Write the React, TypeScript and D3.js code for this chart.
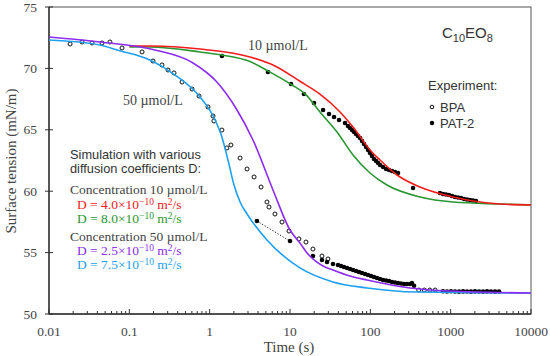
import React from 'react';
import * as d3 from 'd3';

// Axis ticks
const xTickValues = [0.01, 0.1, 1, 10, 100, 1000, 10000];
const xTickLabels = ['0.01', '0.1', '1', '10', '100', '1000', '10000'];
const yTickValues = [50, 55, 60, 65, 70, 75];
const yTickLabels = ['50', '55', '60', '65', '70', '75'];

// Simulation, 10 umol/L, D = 4.0e-10 (red)
const redT = [0.1, 0.181, 0.758, 3.18, 6.5, 13.3, 23.6, 42.0, 60.9, 99.1, 132, 215, 415, 1070, 4112, 10000];
const redG = [71.82, 71.82, 71.58, 70.93, 70.2, 68.95, 67.9, 66.45, 65.23, 63.36, 62.54, 61.32, 60.34, 59.53, 58.96, 58.88];

// Simulation, 10 umol/L, D = 8.0e-10 (green)
const greenT = [0.1, 0.181, 0.758, 1.42, 3.18, 5.32, 10.6, 15.4, 23.6, 38.5, 60.9, 99.1, 161, 415, 1070, 4112, 10000];
const greenG = [71.74, 71.74, 71.34, 71.09, 70.56, 69.79, 68.65, 67.92, 66.45, 64.82, 62.95, 61.48, 60.5, 59.53, 59.12, 58.96, 58.88];

// Simulation, 50 umol/L, D = 2.5e-10 (purple)
const purpleT = [0.01, 0.0431, 0.209, 0.621, 1.23, 2.19, 3.46, 6.14, 10.0, 13.3, 16.3, 25.8, 34.3, 55.9, 91.0, 312, 982, 10000];
const purpleG = [72.56, 72.15, 71.5, 70.44, 68.89, 66.61, 64.17, 60.1, 56.84, 55.78, 54.97, 53.91, 53.58, 53.09, 52.77, 52.12, 51.87, 51.71];

// Simulation, 50 umol/L, D = 7.5e-10 (blue)
const blueT = [0.01, 0.0431, 0.0703, 0.181, 0.371, 0.758, 1.17, 1.42, 1.69, 2.01, 2.39, 2.92, 5.17, 13.3, 34.3, 91.0, 381, 10000];
const blueG = [72.31, 71.91, 71.5, 70.68, 69.46, 67.67, 65.8, 64.41, 62.54, 60.5, 59.12, 58.14, 56.03, 53.75, 52.61, 52.12, 51.79, 51.71];

// Experiment BPA (open circles)
const bpaT = [0.0183, 0.0258, 0.0343, 0.0457, 0.0574, 0.0811, 0.144, 0.197, 0.255, 0.303, 0.36, 0.453, 0.603, 0.737, 0.953, 1.1, 1.13, 1.42, 1.64, 1.84, 2.39, 2.92, 3.57, 4.36, 5.17, 5.48, 6.5, 7.95, 9.72, 12.9, 15.8, 19.3, 25.0, 29.7, 400, 470, 550, 640];
const bpaG = [71.99, 72.15, 72.07, 72.07, 72.15, 71.66, 71.34, 70.6, 70.28, 69.87, 69.63, 68.89, 68.32, 67.75, 66.86, 66.12, 65.72, 64.98, 63.52, 63.76, 62.7, 61.81, 61.16, 60.34, 59.12, 58.71, 58.14, 57.49, 56.76, 56.11, 55.86, 55.29, 54.72, 54.48, 51.95, 51.95, 51.95, 51.95];

// Experiment PAT-2, 10 umol/L (filled dots)
const pat10T = [1.42, 5.32, 10.3, 14.9, 19.9, 25.8, 30.6, 35.3, 40.8, 48.4, 52.7, 55.9, 59.2, 62.7, 66.4, 70.3, 74.5, 78.8, 83.5, 88.4, 93.6, 99.1, 105, 111, 118, 125, 132, 144, 157, 171, 186, 203, 221, 340, 736, 803, 875, 953, 1039, 1132, 1235, 1346, 1467, 1597, 1742, 1898, 2069];
const pat10G = [71.01, 69.71, 68.73, 67.92, 67.18, 66.61, 66.29, 66.04, 65.8, 65.55, 65.31, 65.15, 64.98, 64.82, 64.66, 64.5, 64.33, 64.09, 63.84, 63.6, 63.36, 63.11, 62.87, 62.62, 62.46, 62.3, 62.13, 61.97, 61.81, 61.73, 61.65, 61.56, 61.48, 60.26, 59.85, 59.77, 59.73, 59.69, 59.61, 59.53, 59.49, 59.45, 59.36, 59.32, 59.28, 59.24, 59.2];

// Experiment PAT-2, 50 umol/L (filled dots)
const pat50T = [3.88, 10.0, 19.3, 25.0, 28.9, 34.3, 39.6, 43.2, 47.0, 51.3, 55.9, 60.9, 66.4, 72.3, 78.8, 85.9, 93.6, 102, 111, 121, 132, 144, 157, 171, 186, 203, 221, 241, 263, 286, 312, 330, 350, 803, 901, 1009, 1132, 1271, 1426, 1597, 1791, 2009, 2254, 2529, 2837, 3178, 3565, 4000];
const pat50G = [57.57, 55.94, 54.72, 54.4, 54.23, 54.07, 53.99, 53.91, 53.83, 53.75, 53.66, 53.58, 53.5, 53.42, 53.34, 53.26, 53.18, 53.09, 53.01, 52.93, 52.85, 52.77, 52.73, 52.69, 52.61, 52.57, 52.52, 52.48, 52.44, 52.44, 52.44, 52.52, 52.3, 51.85, 51.83, 51.85, 51.83, 51.82, 51.84, 51.83, 51.82, 51.84, 51.83, 51.82, 51.84, 51.83, 51.82, 51.83];

const RED = '#f21c1c';
const GREEN = '#2a9632';
const PURPLE = '#8c2cf0';
const BLUE = '#1ea0f0';
const SERIF = '"Liberation Serif", "Times New Roman", serif';
const SANS = '"Liberation Sans", Arial, sans-serif';

export default function App() {
  const W = 550;
  const H = 356;
  const L = 49, R = 531, T = 7, B = 314;
  const x = d3.scaleLog().domain([0.01, 10000]).range([L, R]);
  const y = d3.scaleLinear().domain([50, 75]).range([B, T]);

  const mkLine = (ts: number[], gs: number[]) =>
    d3
      .line<number>()
      .x((_, i) => x(ts[i]))
      .y((_, i) => y(gs[i]))
      .curve(d3.curveMonotoneX)(ts.map((_, i) => i)) || '';

  const minor: number[] = [];
  for (let e = -2; e < 4; e++) {
    for (let m = 2; m <= 9; m++) minor.push(m * Math.pow(10, e));
  }

  const dotLine = d3
    .line<number>()
    .x((i) => x(pat50T[i]))
    .y((i) => y(pat50G[i]))([0, 1]) || '';

  const Dlabel = (txt: string, color: string, yy: number) => (
    <text x={77} y={yy} fill={color} fontFamily={SERIF} fontSize={13.5}>
      {`D = ${txt}×10`}
      <tspan dy={-4} fontSize={9.5}>−10</tspan>
      <tspan dy={4}> m</tspan>
      <tspan dy={-4} fontSize={9.5}>2</tspan>
      <tspan dy={4}>/s</tspan>
    </text>
  );

  return (
    <svg width={W} height={H} style={{ position: 'absolute', left: 0, top: 0, background: '#fff' }}>
      <rect x={0} y={0} width={W} height={H} fill="#fff" />
      {/* frame */}
      <rect x={L} y={T} width={R - L} height={B - T} fill="none" stroke="#555" strokeWidth={1} />
      <line x1={L} y1={T} x2={L} y2={B} stroke="#333" strokeWidth={1.4} />
      <line x1={L} y1={B} x2={R} y2={B} stroke="#333" strokeWidth={1.4} />
      {/* x ticks */}
      {minor.map((v, i) => (
        <line key={'mn' + i} x1={x(v)} x2={x(v)} y1={B} y2={B - 3} stroke="#333" strokeWidth={1} />
      ))}
      {xTickValues.map((v, i) => (
        <g key={'xt' + i}>
          <line x1={x(v)} x2={x(v)} y1={B} y2={B - 5} stroke="#333" strokeWidth={1} />
          <text x={x(v)} y={336} textAnchor="middle" fontFamily={SERIF} fontSize={13.5} fill="#444">
            {xTickLabels[i]}
          </text>
        </g>
      ))}
      {/* y ticks */}
      {yTickValues.map((v, i) => (
        <g key={'yt' + i}>
          <line x1={L - 4} x2={L + 4} y1={y(v)} y2={y(v)} stroke="#333" strokeWidth={1} />
          <text x={37} y={y(v) + 4.5} textAnchor="end" fontFamily={SERIF} fontSize={13.5} fill="#444">
            {yTickLabels[i]}
          </text>
        </g>
      ))}
      {/* axis titles */}
      <text x={289} y={352} textAnchor="middle" fontFamily={SERIF} fontSize={15} fill="#444">
        Time (s)
      </text>
      <text
        transform="translate(16,161) rotate(-90)"
        textAnchor="middle"
        fontFamily={SERIF}
        fontSize={15}
        fill="#444"
      >
        Surface tension (mN/m)
      </text>

      {/* experimental data */}
      {bpaT.map((t, i) => (
        <circle key={'b' + i} cx={x(t)} cy={y(bpaG[i])} r={2} fill="#fff" stroke="#111" strokeWidth={1} />
      ))}
      <path d={dotLine} fill="none" stroke="#111" strokeWidth={1} strokeDasharray="1.2,1.8" />
      {pat10T.map((t, i) => (
        <circle key={'p1' + i} cx={x(t)} cy={y(pat10G[i])} r={2.3} fill="#000" />
      ))}
      {pat50T.map((t, i) => (
        <circle key={'p5' + i} cx={x(t)} cy={y(pat50G[i])} r={2.3} fill="#000" />
      ))}

      {/* simulation curves */}
      <path d={mkLine(greenT, greenG)} fill="none" stroke={GREEN} strokeWidth={1.6} />
      <path d={mkLine(redT, redG)} fill="none" stroke={RED} strokeWidth={1.6} />
      <path d={mkLine(blueT, blueG)} fill="none" stroke={BLUE} strokeWidth={1.6} />
      <path d={mkLine(purpleT, purpleG)} fill="none" stroke={PURPLE} strokeWidth={1.6} />

      {/* annotations */}
      <text x={248} y={50} fontFamily={SERIF} fontSize={14} fill="#444">10 µmol/L</text>
      <text x={123} y={105} fontFamily={SERIF} fontSize={14} fill="#444">50 µmol/L</text>

      <text x={442} y={38} fontFamily={SANS} fontSize={15} fill="#333">
        C<tspan dy={4} fontSize={11}>10</tspan>
        <tspan dy={-4}>EO</tspan>
        <tspan dy={4} fontSize={11}>8</tspan>
      </text>
      <text x={428} y={90} fontFamily={SANS} fontSize={13} fill="#333">Experiment:</text>
      <circle cx={432} cy={107} r={1.8} fill="#fff" stroke="#111" strokeWidth={1} />
      <text x={440} y={112} fontFamily={SANS} fontSize={13} fill="#333">BPA</text>
      <circle cx={432} cy={123} r={2.2} fill="#000" />
      <text x={440} y={128} fontFamily={SANS} fontSize={13} fill="#333">PAT-2</text>

      <text x={70} y={159} fontFamily={SANS} fontSize={12.8} fill="#333">Simulation with various</text>
      <text x={70} y={173} fontFamily={SANS} fontSize={12.8} fill="#333">diffusion coefficients D:</text>
      <text x={70} y={194} fontFamily={SERIF} fontSize={13.5} fill="#444">Concentration 10 µmol/L</text>
      {Dlabel('4.0', RED, 209)}
      {Dlabel('8.0', GREEN, 223)}
      <text x={70} y={241} fontFamily={SERIF} fontSize={13.5} fill="#444">Concentration 50 µmol/L</text>
      {Dlabel('2.5', PURPLE, 255)}
      {Dlabel('7.5', BLUE, 269)}
    </svg>
  );
}
